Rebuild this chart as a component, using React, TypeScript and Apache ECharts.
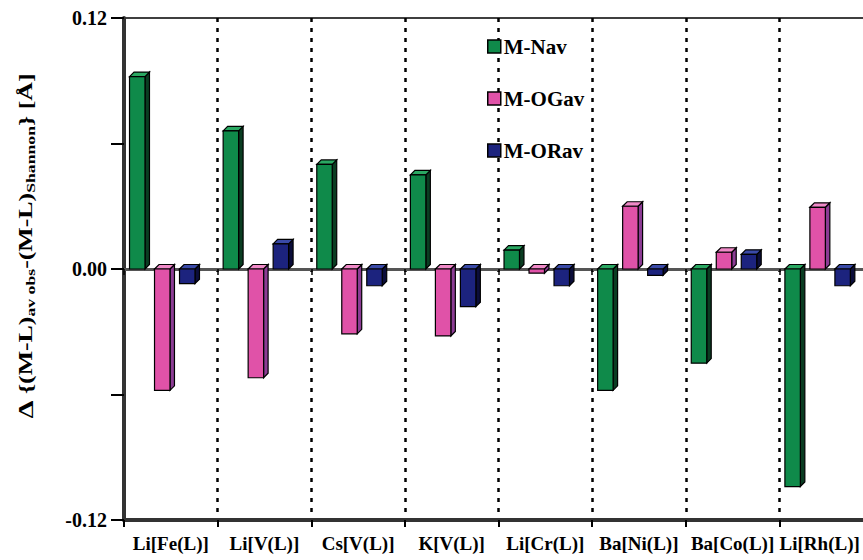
import React, { useEffect, useRef } from "react";
import * as echarts from "echarts";

const categories = ["Li[Fe(L)]", "Li[V(L)]", "Cs[V(L)]", "K[V(L)]", "Li[Cr(L)]", "Ba[Ni(L)]", "Ba[Co(L)]", "Li[Rh(L)]"];
const seriesNames = ["M-Nav", "M-OGav", "M-ORav"];
const mNav = [0.092, 0.066, 0.050, 0.045, 0.009, -0.058, -0.045, -0.104];
const mOGav = [-0.058, -0.052, -0.031, -0.032, -0.002, 0.030, 0.008, 0.0295];
const mORav = [-0.007, 0.012, -0.008, -0.018, -0.008, -0.003, 0.007, -0.008];
const seriesValues = [mNav, mOGav, mORav];

const frontColors = ["#0f8a4a", "#e052a8", "#1c237e"];
const sideColors = ["#0a3d22", "#8c3c94", "#0b0d3a"];
const topColors = ["#2aa862", "#f08ac8", "#3a4aa8"];
const barOffsets = [0.059, 0.326, 0.593];

const FONT = "Liberation Serif, serif";

export default function App() {
  const ref = useRef<HTMLDivElement>(null);
  useEffect(() => {
    document.body.style.margin = "0";
    document.body.style.overflow = "hidden";
    document.documentElement.style.overflow = "hidden";
    const chart = echarts.init(ref.current!, null, { renderer: "svg" });

    const makeRender = (si: number) => (params: any, api: any) => {
      const cat = api.value(0);
      const val = api.value(1);
      const band = api.size([1, 0])[0];
      const p0 = api.coord([cat, 0]);
      const p1 = api.coord([cat, val]);
      const x0 = p0[0] - band / 2 + band * barOffsets[si];
      const w = band * 0.165;
      const d = 4.5;
      const yTop = Math.min(p0[1], p1[1]);
      const yBot = Math.max(p0[1], p1[1]);
      const stroke = { stroke: "#000", lineWidth: 1.2 };
      return {
        type: "group",
        children: [
          {
            type: "polygon",
            shape: { points: [[x0 + w, yTop], [x0 + w + d, yTop - d], [x0 + w + d, yBot - d], [x0 + w, yBot]] },
            style: { fill: sideColors[si], ...stroke },
          },
          {
            type: "polygon",
            shape: { points: [[x0, yTop], [x0 + d, yTop - d], [x0 + w + d, yTop - d], [x0 + w, yTop]] },
            style: { fill: topColors[si], ...stroke },
          },
          {
            type: "rect",
            shape: { x: x0, y: yTop, width: w, height: yBot - yTop },
            style: { fill: frontColors[si], ...stroke },
          },
        ],
      };
    };

    const series: any[] = seriesValues.map((vals, si) => ({
      type: "custom",
      name: seriesNames[si],
      xAxisIndex: 0,
      yAxisIndex: 0,
      clip: false,
      itemStyle: { color: frontColors[si] },
      encode: { x: 0, y: 1 },
      data: vals.map((v, i) => [i, v]),
      renderItem: makeRender(si),
      z: 3,
    }));

    const labelFont = { fontFamily: FONT, fontWeight: "bold", fontSize: 20, color: "#000" };
    const catFont = { ...labelFont, fontSize: 19 };

    chart.setOption({
      animation: false,
      grid: {
        left: 124,
        top: 18,
        right: 0,
        bottom: 40,
        show: true,
        borderColor: "#000",
        borderWidth: 1.5,
        backgroundColor: "transparent",
      },
      legend: {
        orient: "vertical",
        left: 482,
        top: 31,
        itemWidth: 13,
        itemHeight: 13,
        itemGap: 31,
        icon: "rect",
        data: seriesNames,
        itemStyle: { borderColor: "#000", borderWidth: 1.5 },
        textStyle: { fontFamily: FONT, fontWeight: "bold", fontSize: 21, color: "#000", padding: [0, 0, 0, -2] },
      },
      xAxis: [
        {
          type: "category",
          data: categories,
          position: "bottom",
          boundaryGap: true,
          axisLine: { onZero: false, lineStyle: { color: "#333", width: 4 } },
          axisTick: { show: true, interval: 0, length: 7, lineStyle: { color: "#000", width: 2 } },
          axisLabel: {
            interval: 0,
            margin: 14,
            ...catFont,
            formatter: (v: string, i: number) => (i === categories.length - 1 ? `{last|${v}}` : v),
            rich: {
              last: { ...catFont, padding: [0, 13, 0, 0] },
            },
          },
          splitLine: { show: true, interval: 0, lineStyle: { color: "#000", width: 2.5, type: [4, 6] } },
        },
        {
          type: "category",
          data: categories,
          position: "top",
          boundaryGap: true,
          axisLine: { onZero: true, lineStyle: { color: "#555", width: 3 } },
          axisTick: { show: true, interval: 0, inside: true, length: 6, lineStyle: { color: "#000", width: 1.5 } },
          axisLabel: { show: false },
          splitLine: { show: false },
        },
      ],
      yAxis: {
        type: "value",
        min: -0.12,
        max: 0.12,
        interval: 0.06,
        axisLine: { show: true, lineStyle: { color: "#333", width: 4 } },
        axisTick: { show: true, length: 13, lineStyle: { color: "#000", width: 2 } },
        splitLine: { show: false },
        axisLabel: {
          margin: 17,
          ...labelFont,
          formatter: (v: number) => {
            if (Math.abs(v) < 1e-9) return "0.00";
            if (Math.abs(Math.abs(v) - 0.06) < 1e-6) return "";
            return v.toFixed(2);
          },
        },
      },
      graphic: [
        {
          type: "text",
          x: 26,
          y: 246,
          rotation: Math.PI / 2,
          scaleX: 1.36,
          style: {
            text: "{d|Δ} {(M-L){s|av obs}-(M-L){s|Shannon}} [Å]",
            fontFamily: FONT,
            fontWeight: "bold",
            fontSize: 19,
            fill: "#000",
            align: "center",
            verticalAlign: "middle",
            rich: {
              d: { fontFamily: FONT, fontWeight: "bold", fontSize: 21, fill: "#000" },
              s: { fontFamily: FONT, fontWeight: "bold", fontSize: 13, fill: "#000", padding: [8, 0, 0, 0] },
            },
          },
        },
      ],
      series,
    });
    return () => chart.dispose();
  }, []);
  return <div ref={ref} style={{ width: 873, height: 560 }} />;
}
